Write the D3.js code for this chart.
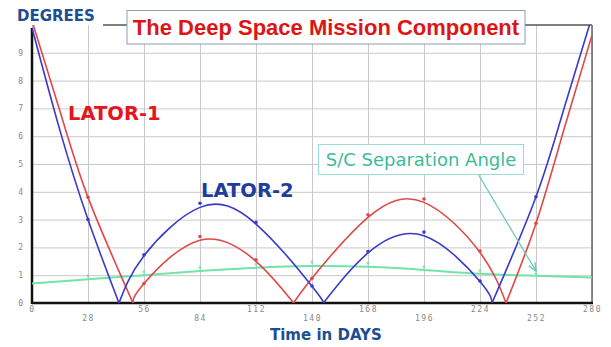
<!DOCTYPE html>
<html><head><meta charset="utf-8">
<script src="https://cdn.jsdelivr.net/npm/d3@7"></script>
<style>body{margin:0;background:#fff;}svg{display:block;}</style>
</head><body>
<svg id="c" width="611" height="347"></svg>
<script>
// ---- data ----
const xTicks = [0,28,56,84,112,140,168,196,224,252,280];
const yTicks = [0,1,2,3,4,5,6,7,8,9];
const markerDays = [28,56,84,112,140,168,196,224,252];

const lator1Days   = [0,14,28,50.5,56,84,112,130.8,140,168,196,224,237,252,266,280];
const lator1Values = [10.15,6.9,3.8,0,0.7,2.26,1.5,0,0.89,3.08,3.62,1.82,0,2.87,6.25,9.64];
const lator1Marks  = [3.8,0.7,2.39,1.55,0.89,3.17,3.74,1.87,2.87];

const lator2Days   = [0,14,28,43.5,56,84,112,140,145.7,168,196,224,230,252,266,280];
const lator2Values = [9.9,6.2,3.0,0,1.7,3.44,2.84,0.6,0,1.8,2.42,0.77,0,3.82,7.0,10.3];
const lator2Marks  = [3.0,1.73,3.59,2.9,0.61,1.85,2.55,0.79,3.82];

const sepDays   = [0,28,56,84,112,140,168,196,224,252,280];
const sepValues = [0.7,0.85,1.0,1.15,1.27,1.33,1.3,1.19,1.05,0.98,0.92];
const sepMarks  = [0.97,1.12,1.28,1.4,1.47,1.43,1.3,1.16,1.06];

// ---- layout ----
const svg = d3.select("#c");
const L = 32, R = 592, T = 25, B = 303;
const x = d3.scaleLinear().domain([0,280]).range([L,R]);
const y = d3.scaleLinear().domain([0,10]).range([B,T]);

const RED = "#e04848", BLUE = "#3a3ac8", GREEN = "#72e3ab", TEAL = "#3dbb98";

// grid + y labels
const gy = svg.append("g").attr("transform",`translate(${L},0)`)
  .call(d3.axisLeft(y).tickValues(yTicks).tickSize(-(R-L)).tickPadding(9).tickFormat(d3.format("d")));
gy.select(".domain").remove();
gy.selectAll("line").attr("stroke","#c9c9c9").attr("stroke-width",1);
gy.selectAll("text").attr("fill","#888").style("font","8px 'DejaVu Sans Mono'");

const gx = svg.append("g").attr("transform",`translate(0,${B})`)
  .call(d3.axisBottom(x).tickValues(xTicks).tickSize(-(B-T)).tickPadding(3.5).tickFormat(d3.format("d")));
gx.select(".domain").remove();
gx.selectAll("line").attr("stroke","#c9c9c9").attr("stroke-width",1);
gx.selectAll("text").attr("fill","#888").style("font","8px 'DejaVu Sans Mono'")
  .style("letter-spacing","1.5px")
  .attr("transform",(d,i)=> i%2 ? "translate(0,9)" : null);

// frame
svg.append("line").attr("x1",103).attr("x2",R).attr("y1",T).attr("y2",T).attr("stroke","#555").attr("stroke-width",1.5);
svg.append("line").attr("x1",R).attr("x2",R).attr("y1",T).attr("y2",B).attr("stroke","#666").attr("stroke-width",1.5);
svg.append("line").attr("x1",L).attr("x2",L).attr("y1",28).attr("y2",B+1).attr("stroke","#111").attr("stroke-width",2.5);
svg.append("line").attr("x1",L).attr("x2",R+1).attr("y1",B).attr("y2",B).attr("stroke","#111").attr("stroke-width",2.5);

// clip
svg.append("clipPath").attr("id","pc").append("rect").attr("x",L).attr("y",T).attr("width",R-L).attr("height",B-T);
const plot = svg.append("g").attr("clip-path","url(#pc)");

function segments(days, vals){
  const pts = days.map((d,i)=>[d,vals[i]]);
  const segs=[]; let cur=[];
  pts.forEach(p=>{ cur.push(p); if(p[1]===0 && cur.length>1){ segs.push(cur); cur=[p]; } });
  if(cur.length>1) segs.push(cur);
  return segs;
}
const line = d3.line().x(d=>x(d[0])).y(d=>y(d[1])).curve(d3.curveNatural);

// separation angle
plot.append("path").datum(sepDays.map((d,i)=>[d,sepValues[i]]))
  .attr("d",line).attr("fill","none").attr("stroke",GREEN).attr("stroke-width",2);
plot.selectAll(".sm").data(markerDays).enter().append("path")
  .attr("d",(d,i)=>`M${x(d)-1.5},${y(sepMarks[i])}h3M${x(d)},${y(sepMarks[i])-2}v4`)
  .attr("stroke","#7fd9a8").attr("stroke-width",1);

function series(days, vals, marks, color){
  segments(days, vals).forEach(s=>{
    plot.append("path").datum(s).attr("d",line).attr("fill","none").attr("stroke",color).attr("stroke-width",1.6);
  });
  plot.selectAll(null).data(markerDays).enter().append("circle")
    .attr("cx",d=>x(d)).attr("cy",(d,i)=>y(marks[i])).attr("r",1.8).attr("fill",color);
}
series(lator1Days, lator1Values, lator1Marks, RED);
series(lator2Days, lator2Values, lator2Marks, BLUE);

// arrow
const defs = svg.append("defs");
defs.append("marker").attr("id","ah").attr("viewBox","0 0 10 10").attr("refX",9).attr("refY",5)
  .attr("markerWidth",7).attr("markerHeight",7).attr("orient","auto")
  .append("path").attr("d","M0,1L9,5L0,9").attr("fill","none").attr("stroke","#6cc9bb").attr("stroke-width",1.5);
svg.append("line").attr("x1",478).attr("y1",174).attr("x2",536).attr("y2",271)
  .attr("stroke","#6cc9bb").attr("stroke-width",1.3).attr("marker-end","url(#ah)");

// S/C label
svg.append("rect").attr("x",318.5).attr("y",144.5).attr("width",205).attr("height",30)
  .attr("fill","#fff").attr("stroke","#9adccd").attr("stroke-width",1);
svg.append("text").attr("x",421).attr("y",166).attr("text-anchor","middle")
  .attr("fill",TEAL).style("font","18px 'DejaVu Sans'").text("S/C Separation Angle");

// title
svg.append("rect").attr("x",127).attr("y",10.5).attr("width",398).attr("height",33.5)
  .attr("fill","#fff").attr("stroke","#8c9fae").attr("stroke-width",1);
svg.append("text").attr("x",326).attr("y",35).attr("text-anchor","middle")
  .attr("fill","#dd1515").style("font","bold 22px 'Liberation Sans'").text("The Deep Space Mission Component");

// other labels
svg.append("text").attr("x",17).attr("y",21).attr("fill","#1c4e91")
  .style("font","bold 15px 'DejaVu Sans'").text("DEGREES");
svg.append("text").attr("x",68).attr("y",120).attr("fill","#e5161e")
  .style("font","bold 19.5px 'DejaVu Sans'").text("LATOR-1");
svg.append("text").attr("x",201).attr("y",197).attr("fill","#1e3d9c")
  .style("font","bold 19.5px 'DejaVu Sans'").text("LATOR-2");
svg.append("text").attr("x",270).attr("y",340).attr("fill","#1c4e91")
  .style("font","bold 15px 'DejaVu Sans'").text("Time in DAYS");
</script>
</body></html>
